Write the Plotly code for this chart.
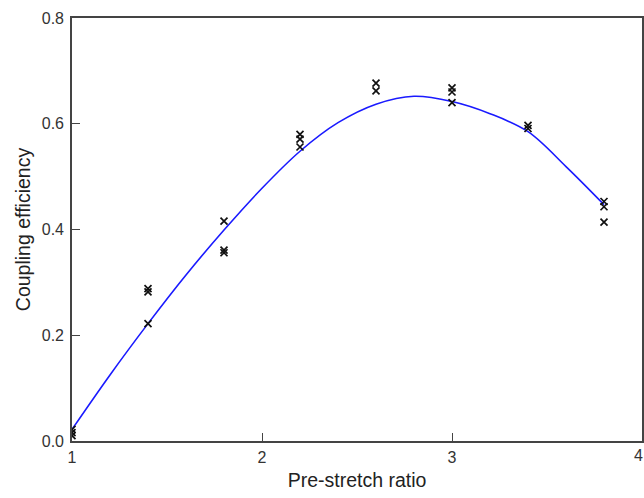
import plotly.graph_objects as go

# Measured data (pre-stretch ratio vs coupling efficiency)
stretch = [1.0, 1.0, 1.0,
           1.4, 1.4, 1.4,
           1.8, 1.8, 1.8,
           2.2, 2.2, 2.2,
           2.6, 2.6,
           3.0, 3.0, 3.0,
           3.4, 3.4,
           3.8, 3.8, 3.8]
efficiency = [0.010, 0.016, 0.022,
              0.288, 0.282, 0.222,
              0.416, 0.361, 0.356,
              0.580, 0.571, 0.556,
              0.677, 0.662,
              0.668, 0.660, 0.640,
              0.597, 0.591,
              0.453, 0.443, 0.414]

# Fitted curve
fit_x = [1.0, 1.2, 1.4, 1.6, 1.8, 2.0, 2.2, 2.4, 2.6, 2.8, 3.0, 3.2, 3.4, 3.6, 3.8]
fit_y = [0.022, 0.125, 0.222, 0.314, 0.399, 0.478, 0.548, 0.602, 0.637, 0.652, 0.642, 0.619, 0.585, 0.519, 0.447]

x_ticks = [1, 2, 3, 4]
x_tick_labels = ["1", "2", "3", "4"]
y_ticks = [0.0, 0.2, 0.4, 0.6, 0.8]
y_tick_labels = ["0.0", "0.2", "0.4", "0.6", "0.8"]

FONT = "Liberation Sans, Arial, sans-serif"

fig = go.Figure()
fig.add_trace(go.Scatter(
    x=fit_x, y=fit_y, mode="lines",
    line=dict(color="#1a1aff", width=1.6, shape="spline", smoothing=1.0),
    showlegend=False, hoverinfo="skip"))
fig.add_trace(go.Scatter(
    x=stretch, y=efficiency, mode="markers",
    marker=dict(symbol="x-thin", size=7, line=dict(color="#111111", width=1.7)),
    showlegend=False))

axis_common = dict(
    showline=True, linecolor="#444444", linewidth=1.6, mirror=True,
    ticks="inside", ticklen=8, tickwidth=1.2, tickcolor="#444444",
    showgrid=False, zeroline=False, automargin=False,
    tickfont=dict(family=FONT, size=16, color="#333333"),
)

# last x tick label is drawn as an annotation nudged left so it stays inside the page
fig.update_xaxes(range=[1, 4], tickvals=x_ticks,
                 ticktext=x_tick_labels[:-1] + [""],
                 title=dict(text="Pre-stretch ratio",
                            font=dict(family=FONT, size=19.5, color="#222222"),
                            standoff=8),
                 ticklabelstandoff=1,
                 **axis_common)
fig.update_yaxes(range=[0, 0.8], tickvals=y_ticks, ticktext=y_tick_labels,
                 title=dict(text="Coupling efficiency",
                            font=dict(family=FONT, size=19.5, color="#222222"),
                            standoff=6),
                 ticklabelstandoff=3,
                 **axis_common)

fig.add_annotation(
    x=x_ticks[-1], xref="x", y=0, yref="paper",
    text=x_tick_labels[-1], showarrow=False,
    xanchor="center", yanchor="top", xshift=-4, yshift=-5,
    borderpad=0,
    font=dict(family=FONT, size=16, color="#333333"))

fig.update_layout(
    width=644, height=498,
    margin=dict(l=72, r=2, t=18, b=57),
    paper_bgcolor="white", plot_bgcolor="white",
)

fig.write_html("out.html", config={"displayModeBar": False},
               post_script="document.body.style.margin='0px';document.body.style.overflow='hidden';")
